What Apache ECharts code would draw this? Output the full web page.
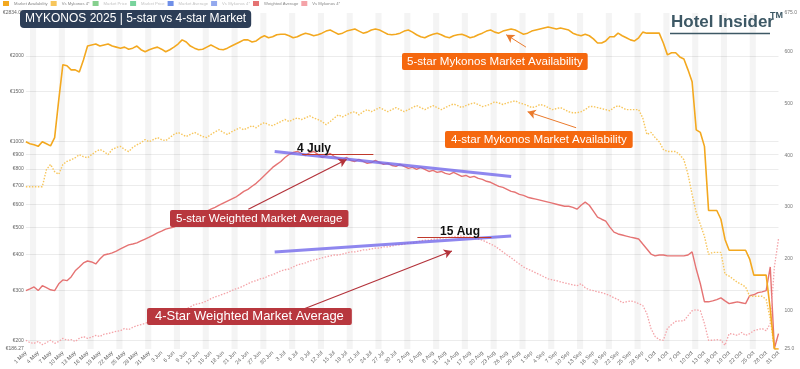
<!DOCTYPE html>
<html><head><meta charset="utf-8">
<script src="https://cdn.jsdelivr.net/npm/echarts@6/dist/echarts.min.js"></script>
<style>html,body{margin:0;padding:0;background:#fff}#c{width:800px;height:369px}</style>
</head><body><div id="c"></div>
<script>
// ---- data ----
const dayCount = 184;
const monthNames = ['Jan','Feb','Mar','Apr','May','Jun','Jul','Aug','Sep','Oct','Nov','Dec'];
const dates = [];
for (let i = 0; i < dayCount; i++) { dates.push(new Date(2025, 4, 1 + i)); }
const dateLabels = dates.map(d => d.getDate() + ' ' + monthNames[d.getMonth()]);

// 5-star market availability (right axis)
const avail5 = [426,422,420,417,426,422,418,434,507,575,573,565,565,561,584,
611,613,615,611,613,615,611,609,
607,609,605,607,611,604,600,604,607,609,605,600,
604,609,615,623,619,611,607,604,605,609,613,609,605,604,607,611,
615,619,623,623,619,621,627,631,627,629,633,634,634,631,627,629,633,636,634,631,
633,636,640,642,638,634,636,640,642,644,640,636,638,642,644,642,638,634,633,634,636,640,642,638,633,629,627,631,634,636,
633,629,627,631,633,634,631,627,629,633,636,640,642,638,636,640,642,644,642,638,634,636,640,642,644,646,648,646,644,
646,644,642,636,633,631,634,631,625,617,
617,621,629,629,636,631,627,623,621,627,
638,636,636,636,636,617,594,598,598,590,
586,565,542,449,444,417,293,293,293,276,
237,216,216,216,216,216,199,168,168,168,
168,102,25,25];
// 4-star market availability (right axis)
const avail4 = [339,339,339,339,339,372,382,368,363,382,388,
391,395,401,397,395,401,407,411,407,401,
411,415,417,411,407,415,420,424,430,426,
430,434,430,428,434,440,444,440,436,440,
444,440,436,434,440,445,449,444,440,445,
449,453,449,453,457,453,459,463,459,457,
461,465,469,465,469,472,469,472,476,472,
469,465,459,465,472,478,474,478,482,484,
478,484,488,484,488,492,488,484,488,492,
488,484,488,492,496,492,488,492,496,492,
488,492,496,499,496,492,496,499,501,498,
494,496,499,503,501,498,501,503,505,501,
499,496,492,494,498,496,492,488,490,
492,488,484,482,482,484,488,494,494,492,
490,488,486,492,496,492,488,488,488,488,
472,440,444,434,426,411,407,407,407,401,
391,363,324,289,266,243,208,212,212,212,
170,166,160,154,150,145,127,127,127,127,
121,83,25,25];
// 5-star weighted market average price (left axis, EUR)
const price5 = [299,303,308,299,311,306,301,299,316,326,324,
334,351,362,374,380,377,371,386,399,402,
406,412,419,426,433,436,440,447,454,461,
469,477,484,492,496,500,508,516,525,533,
542,551,560,569,578,587,597,607,617,627,
637,652,668,679,696,713,736,760,785,811,
831,851,879,901,915,923,908,893,915,923,
901,879,893,908,886,872,865,879,858,851,
865,851,838,844,858,844,831,838,824,818,
831,818,805,811,798,811,798,785,792,779,
785,773,767,779,767,754,760,748,754,742,
736,725,719,707,696,690,679,668,663,652,
647,637,632,627,622,617,612,607,602,
597,592,592,587,578,597,612,597,569,542,
533,525,500,480,473,469,465,461,458,454,
436,419,402,396,399,399,396,396,396,396,
396,399,409,356,316,273,273,275,278,282,
275,269,271,273,271,269,287,289,294,296,
299,362,187,211];
// 4-star weighted market average price (left axis, EUR)
const price4 = [200,196,195,198,193,196,200,195,198,203,200,201,198,203,206,203,205,208,206,210,211,
213,215,216,220,218,222,225,227,229,233,234,238,242,244,246,250,252,254,258,262,
267,269,271,275,280,284,287,291,294,299,303,306,311,316,321,324,329,331,337,340,
345,351,354,356,362,368,371,374,380,383,386,390,393,396,399,399,402,406,409,409,
412,416,416,419,422,422,426,426,429,433,433,436,440,440,443,447,450,450,454,454,
458,458,461,461,465,465,461,461,458,454,450,443,436,429,419,409,399,390,380,371,
362,356,351,345,340,334,329,326,324,
321,318,316,313,311,316,306,301,299,296,
294,291,287,282,278,271,273,275,273,269,
265,248,220,206,201,200,220,227,233,234,
234,244,254,256,254,229,200,200,201,200,
192,211,210,208,213,208,211,216,218,220,
216,229,362,454];

const leftTicks = [200,300,400,500,600,700,800,900,1000,1500,2000];
const leftMin = 186.27, leftMax = 2834;
const rightTicks = [100,200,300,400,500,600];
const rightMin = 25, rightMax = 675;

const legendNames = ['Market Availability','Vs Mykonos 4*','Market Price','Market Price\u200b','Market Average','Vs Mykonos 4*\u200b','Weighted Average','Vs Mykonos 4*\u200b\u200b'];
const legendColors = ['#f3a81f','#f7c65c','#86d08e','#78d39c','#6f8fe8','#93a9ee','#e57373','#f4a3a8'];
const legendStruck = [false, false, true, true, true, true, false, false];

// annotations (day index, value)
const trend5 = [[60.5, 923], [118, 754]];
const trend4 = [[60.5, 409], [118, 465]];
const peak5Line = [[67.2, 905], [84.5, 905]];
const peak4Line = [[95.2, 461], [113.2, 461]];
const arrowAvail5 = [[121.6, 609], [116.8, 633]];
const arrowAvail4 = [[133.8, 453], [122, 484]];
const arrowPrice5 = [[54.1, 578], [78, 865]];
const arrowPrice4 = [[67.7, 258], [103.6, 412]];

// ---- chart ----
const L = v => Math.log10(v);
const idx = a => a.map((v, i) => [i, v]);
const idxLog = a => a.map((v, i) => [i, L(v)]);

// weekend bands (Friday .. Saturday)
const bands = [];
dates.forEach((d, i) => { if (d.getDay() === 5) bands.push([{xAxis: i}, {xAxis: Math.min(i + 1.5, dayCount - 1)}]); });

function mk(pts, color, width, arrow, log) {
  const c = p => [p[0], log ? L(p[1]) : p[1]];
  return [{coord: c(pts[0]), symbol: 'none', lineStyle: {color: color, width: width, type: 'solid'}},
          {coord: c(pts[1]), symbol: arrow ? 'arrow' : 'none', symbolSize: arrow ? [7, 8] : 0}];
}

const chart = echarts.init(document.getElementById('c'), null, {renderer: 'canvas'});
const font = 'Liberation Sans, Arial, sans-serif';
chart.setOption({
  animation: false,
  textStyle: {fontFamily: font},
  grid: {left: 17, right: 18, top: 13, bottom: 19, containLabel: false},
  legend: {
    left: 3, top: 1, itemWidth: 6, itemHeight: 5, itemGap: 3, icon: 'rect', padding: 0,
    textStyle: {fontSize: 4.2, color: '#888'},
    data: legendNames.map((n, i) => ({name: n, textStyle: {color: legendStruck[i] ? '#c4c4c4' : '#888'}}))
  },
  xAxis: {
    type: 'value', min: 0, max: dayCount - 1, interval: 3,
    axisLine: {show: false}, axisTick: {show: false}, splitLine: {show: false},
    axisLabel: {rotate: 45, fontSize: 5.5, color: '#666', margin: 3, formatter: v => dateLabels[v] || ''}
  },
  yAxis: [{
    type: 'value', min: L(leftMin), max: L(leftMax),
    axisLine: {show: false},
    axisLabel: {fontSize: 5, color: '#666', margin: 2,
      customValues: [L(leftMin)].concat(leftTicks.map(L)).concat([L(leftMax)]),
      formatter: v => { const r = Math.pow(10, v); const t = leftTicks.find(x => Math.abs(x - r) < 0.5); return t ? '\u20ac' + t : '\u20ac' + r.toFixed(2); }},
    axisTick: {show: false, customValues: leftTicks.map(L)},
    splitLine: {show: true, lineStyle: {color: '#ececec', width: 1}}
  }, {
    type: 'value', min: rightMin, max: rightMax, position: 'right',
    axisLine: {show: false},
    axisLabel: {fontSize: 5, color: '#777', margin: 6, customValues: [rightMin].concat(rightTicks).concat([rightMax]),
      formatter: v => (v === rightMin || v === rightMax) ? v.toFixed(1) : String(v)},
    axisTick: {show: false, customValues: rightTicks},
    splitLine: {show: false}
  }],
  series: [
    {name: legendNames[0], type: 'line', yAxisIndex: 1, data: idx(avail5), showSymbol: false, symbol: 'none',
     lineStyle: {color: legendColors[0], width: 1.6}, itemStyle: {color: legendColors[0]}, z: 5,
     markArea: {silent: true, itemStyle: {color: 'rgba(0,0,0,0.045)'}, data: bands},
     markLine: {silent: true, label: {show: false}, data: [mk(arrowAvail5, '#ea7a2c', 1, true, false)]}},
    {name: legendNames[1], type: 'line', yAxisIndex: 1, data: idx(avail4), showSymbol: false, symbol: 'none',
     lineStyle: {color: legendColors[1], width: 1.4, type: [1.5, 1.5]}, itemStyle: {color: legendColors[1]}, z: 4,
     markLine: {silent: true, label: {show: false}, data: [mk(arrowAvail4, '#ea7a2c', 1, true, false)]}},
    {name: legendNames[2], type: 'line', data: [], itemStyle: {color: legendColors[2]}},
    {name: legendNames[3], type: 'line', data: [], itemStyle: {color: legendColors[3]}},
    {name: legendNames[4], type: 'line', data: [], itemStyle: {color: legendColors[4]}},
    {name: legendNames[5], type: 'line', data: [], itemStyle: {color: legendColors[5]}},
    {name: legendNames[6], type: 'line', yAxisIndex: 0, data: idxLog(price5), showSymbol: false, symbol: 'none',
     lineStyle: {color: legendColors[6], width: 1.4}, itemStyle: {color: legendColors[6]}, z: 3,
     markLine: {silent: true, label: {show: false}, data: [
       mk(trend5, 'rgba(115,105,235,0.8)', 3, false, true),
       mk(peak5Line, '#c0392b', 1, false, true),
       mk(arrowPrice5, '#b3323a', 1.2, true, true)]}},
    {name: legendNames[7], type: 'line', yAxisIndex: 0, data: idxLog(price4), showSymbol: false, symbol: 'none',
     lineStyle: {color: legendColors[7], width: 1.3, type: [1.5, 1.5]}, itemStyle: {color: legendColors[7]}, z: 3,
     markLine: {silent: true, label: {show: false}, data: [
       mk(trend4, 'rgba(115,105,235,0.8)', 3, false, true),
       mk(peak4Line, '#c0392b', 1, false, true),
       mk(arrowPrice4, '#b3323a', 1.2, true, true)]}}
  ],
  graphic: [
    {type: 'text', left: 20, top: 10, z: 100, style: {text: 'MYKONOS 2025 | 5-star vs 4-star Market', fill: '#fff', font: '12px ' + font,
      backgroundColor: '#2d3e57', padding: [3, 5, 3, 5], borderRadius: 4}},
    {type: 'text', left: 671, top: 14, z: 100, style: {text: 'Hotel Insider', fill: '#3d5865', font: 'bold 17px ' + font}},
    {type: 'text', left: 770, top: 11, z: 100, style: {text: 'TM', fill: '#3d5865', font: 'bold 9px ' + font}},
    {type: 'line', z: 100, shape: {x1: 670, y1: 33.5, x2: 770, y2: 33.5}, style: {stroke: '#3d5865', lineWidth: 1.5}},
    {type: 'text', left: 402, top: 53, z: 100, style: {text: '5-star Mykonos Market Availability', fill: '#fff', font: '11.6px ' + font,
      backgroundColor: '#f5680f', padding: [3, 5, 2, 5], borderRadius: 2}},
    {type: 'text', left: 445, top: 131, z: 100, style: {text: '4-star Mykonos Market Availability', fill: '#fff', font: '11.6px ' + font,
      backgroundColor: '#f5680f', padding: [3, 6, 2, 6], borderRadius: 2}},
    {type: 'text', left: 170, top: 210, z: 100, style: {text: '5-star Weighted Market Average', fill: '#fff', font: '11.6px ' + font,
      backgroundColor: '#b8373e', padding: [3, 6, 2, 6], borderRadius: 2}},
    {type: 'text', left: 147, top: 308, z: 100, style: {text: '4-Star Weighted Market Average', fill: '#fff', font: '13px ' + font,
      backgroundColor: '#b8373e', padding: [2, 8, 2, 8], borderRadius: 2}},
    {type: 'text', left: 297, top: 143, z: 100, style: {text: '4 July', fill: '#111', font: 'bold 12px ' + font}},
    {type: 'text', left: 440, top: 226, z: 100, style: {text: '15 Aug', fill: '#111', font: 'bold 12px ' + font}}
  ]
});
</script></body></html>
